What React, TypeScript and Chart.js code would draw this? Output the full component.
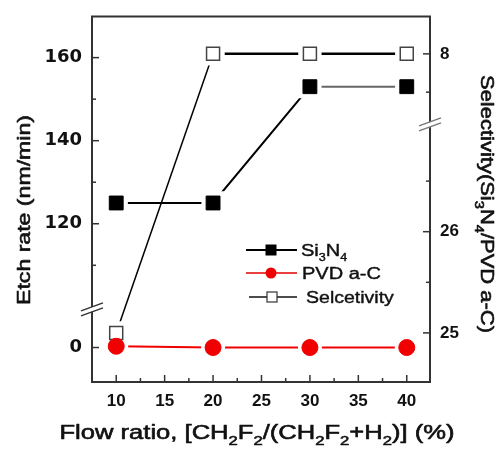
import React, { useEffect, useRef } from 'react';
import { Chart, registerables } from 'chart.js';

Chart.register(...registerables);

// ---- data ----
const flowRatio = [10, 20, 30, 40];
const si3n4EtchRate = [125, 125, 153, 153];
const pvdEtchRate = [0.3, 0, 0, 0];
const selectivity = [25, 8, 8, 8];

// ---- ticks ----
const xMajorTicks = [10, 15, 20, 25, 30, 35, 40];
const xMinorTicks = [12.5, 17.5, 22.5, 27.5, 32.5, 37.5];
const leftMajorTicks = [0, 120, 140, 160];
const leftMinorTicks = [110, 130, 150];
const rightMajorTicks = [25, 26, 8];
const rightMinorTicks = [25.5, 26.5, 7.5];

// ---- broken-axis transforms (value -> position on a continuous internal scale) ----
const leftAxis = (v: number) => (v >= 50 ? v : v + 90.2);
const rightAxis = (v: number) => (v >= 20 ? v : 27.757 + (v - 8) * 0.757);
const LEFT_BREAK = 99.4;
const RIGHT_BREAK = 27.06;

type Part = { t: string; sub?: boolean };

const FAMILY = '"Liberation Sans", Arial, Helvetica, sans-serif';

function drawRich(
  ctx: CanvasRenderingContext2D,
  parts: Part[],
  o: { x: number; y: number; rot?: number; size: number; length?: number; stretch?: number; align?: 'left' | 'center'; color?: string; heavy?: number }
) {
  ctx.save();
  ctx.translate(o.x, o.y);
  ctx.rotate(o.rot || 0);
  const subSize = Math.round(o.size * 0.64);
  const font = (s: number) => `normal ${s}px ${FAMILY}`;
  const widths = parts.map((p) => {
    ctx.font = font(p.sub ? subSize : o.size);
    return ctx.measureText(p.t).width;
  });
  const w = widths.reduce((a, b) => a + b, 0);
  const k = o.length ? o.length / w : o.stretch || 1;
  ctx.scale(k, 1);
  ctx.fillStyle = o.color || '#111';
  ctx.strokeStyle = o.color || '#111';
  ctx.lineWidth = o.heavy ?? 0.6;
  ctx.lineJoin = 'round';
  ctx.textBaseline = 'alphabetic';
  ctx.textAlign = 'left';
  let x = o.align === 'left' ? 0 : -w / 2;
  const base = o.size * 0.36;
  parts.forEach((p, i) => {
    ctx.font = font(p.sub ? subSize : o.size);
    const y = p.sub ? base + o.size * 0.3 : base;
    ctx.fillText(p.t, x, y);
    if (ctx.lineWidth > 0) ctx.strokeText(p.t, x, y);
    x += widths[i];
  });
  ctx.restore();
}

const decorPlugin = {
  id: 'decor',
  afterDraw(chart: any) {
    const { ctx, chartArea: a, scales } = chart;
    const sx = scales.x;
    const yl = scales.y;
    const yr = scales.y2;
    ctx.save();

    // frame
    ctx.strokeStyle = '#333';
    ctx.lineWidth = 2;
    ctx.strokeRect(a.left, a.top, a.right - a.left, a.bottom - a.top);

    const line = (x1: number, y1: number, x2: number, y2: number) => {
      ctx.beginPath();
      ctx.moveTo(x1, y1);
      ctx.lineTo(x2, y2);
      ctx.stroke();
    };

    // inward tick marks
    ctx.lineWidth = 1.5;
    ctx.strokeStyle = '#333';
    xMajorTicks.forEach((v) => {
      const p = sx.getPixelForValue(v);
      line(p, a.bottom, p, a.bottom - 7);
    });
    xMinorTicks.forEach((v) => {
      const p = sx.getPixelForValue(v);
      line(p, a.bottom, p, a.bottom - 4);
    });
    leftMajorTicks.forEach((v) => {
      const p = yl.getPixelForValue(leftAxis(v));
      line(a.left, p, a.left + 7, p);
    });
    leftMinorTicks.forEach((v) => {
      const p = yl.getPixelForValue(leftAxis(v));
      line(a.left, p, a.left + 4, p);
    });
    rightMajorTicks.forEach((v) => {
      const p = yr.getPixelForValue(rightAxis(v));
      line(a.right, p, a.right - 7, p);
    });
    rightMinorTicks.forEach((v) => {
      const p = yr.getPixelForValue(rightAxis(v));
      line(a.right, p, a.right - 4, p);
    });

    // axis breaks
    const drawBreak = (bx: number, by: number, color: string) => {
      const hw = 11;
      const dy = 4;
      const g = 2.5;
      ctx.fillStyle = '#fff';
      ctx.beginPath();
      ctx.moveTo(bx - hw, by + dy - g);
      ctx.lineTo(bx + hw, by - dy - g);
      ctx.lineTo(bx + hw, by - dy + g);
      ctx.lineTo(bx - hw, by + dy + g);
      ctx.closePath();
      ctx.fill();
      ctx.strokeStyle = color;
      ctx.lineWidth = 1.3;
      line(bx - hw, by + dy - g, bx + hw, by - dy - g);
      line(bx - hw, by + dy + g, bx + hw, by - dy + g);
    };
    drawBreak(a.left, yl.getPixelForValue(LEFT_BREAK), '#333');
    drawBreak(a.right, yr.getPixelForValue(RIGHT_BREAK), '#777');

    // axis titles
    drawRich(ctx, [{ t: 'Etch rate (nm/min)' }], { x: 23, y: 210, rot: -Math.PI / 2, size: 19, length: 190 });
    drawRich(
      ctx,
      [
        { t: 'Selectivity(Si' },
        { t: '3', sub: true },
        { t: 'N' },
        { t: '4', sub: true },
        { t: '/PVD a-C)' },
      ],
      { x: 487, y: 204, rot: Math.PI / 2, size: 18, length: 258 }
    );
    drawRich(
      ctx,
      [
        { t: 'Flow ratio, [CH' },
        { t: '2', sub: true },
        { t: 'F' },
        { t: '2', sub: true },
        { t: '/(CH' },
        { t: '2', sub: true },
        { t: 'F' },
        { t: '2', sub: true },
        { t: '+H' },
        { t: '2', sub: true },
        { t: ')] (%)' },
      ],
      { x: 257, y: 432, size: 20, length: 395 }
    );

    // legend
    const ly = [250, 273, 297];
    // Si3N4
    ctx.strokeStyle = '#000';
    ctx.lineWidth = 2;
    line(246, ly[0], 297, ly[0]);
    ctx.fillStyle = '#000';
    ctx.fillRect(271 - 5.5, ly[0] - 5.5, 11, 11);
    drawRich(ctx, [{ t: 'Si' }, { t: '3', sub: true }, { t: 'N' }, { t: '4', sub: true }], { x: 301, y: ly[0], size: 16, stretch: 1.25, align: 'left', heavy: 0.4 });
    // PVD a-C
    ctx.strokeStyle = '#e00000';
    ctx.lineWidth = 1.5;
    line(246, ly[1], 297, ly[1]);
    ctx.fillStyle = '#ee0000';
    ctx.beginPath();
    ctx.arc(271, ly[1], 5.5, 0, Math.PI * 2);
    ctx.fill();
    drawRich(ctx, [{ t: 'PVD a-C' }], { x: 302, y: ly[1], size: 16, stretch: 1.25, align: 'left', heavy: 0.4 });
    // Selcetivity
    ctx.strokeStyle = '#111';
    ctx.lineWidth = 1.5;
    line(249, ly[2], 297, ly[2]);
    ctx.fillStyle = '#fff';
    ctx.fillRect(272 - 5, ly[2] - 5, 10, 10);
    ctx.strokeStyle = '#333';
    ctx.lineWidth = 1.2;
    ctx.strokeRect(272 - 5, ly[2] - 5, 10, 10);
    drawRich(ctx, [{ t: 'Selcetivity' }], { x: 306, y: ly[2], size: 16, stretch: 1.22, align: 'left', heavy: 0.4 });

    ctx.restore();
  },
};

const noPad = (s: any) => {
  s.paddingTop = 0;
  s.paddingBottom = 0;
  s.paddingLeft = 0;
  s.paddingRight = 0;
};

export default function App() {
  const ref = useRef<HTMLCanvasElement | null>(null);

  useEffect(() => {
    if (!ref.current) return;
    const si = flowRatio.map((x, i) => ({ x, y: leftAxis(si3n4EtchRate[i]) }));
    const pvd = flowRatio.map((x, i) => ({ x, y: leftAxis(pvdEtchRate[i]) }));
    const sel = flowRatio.map((x, i) => ({ x, y: rightAxis(selectivity[i]) }));

    const tickFont = { family: FAMILY, size: 17, weight: 'bold' as const };

    const chart = new Chart(ref.current, {
      type: 'line',
      data: {
        datasets: [
          {
            label: 'Si3N4',
            data: si,
            yAxisID: 'y',
            borderColor: '#000',
            borderWidth: 2,
            pointRadius: 0,
            order: 3,
            segment: { borderColor: (c: any) => (c.p0DataIndex === 2 ? '#666' : undefined) },
          },
          {
            label: 'PVD a-C',
            data: pvd,
            yAxisID: 'y',
            borderColor: '#f00000',
            borderWidth: 2,
            pointRadius: 0,
            order: 3,
          },
          {
            label: 'Selcetivity',
            data: sel,
            yAxisID: 'y2',
            borderColor: '#000',
            borderWidth: 2.5,
            pointRadius: 0,
            order: 3,
            segment: { borderWidth: (c: any) => (c.p0DataIndex === 0 ? 1.5 : 2.5) },
          },
          // white halos (gaps between lines and markers)
          { data: si, yAxisID: 'y', showLine: false, pointStyle: 'rect', pointRadius: 16.5, pointBackgroundColor: '#fff', pointBorderWidth: 0, order: 2 },
          { data: pvd, yAxisID: 'y', showLine: false, pointStyle: 'circle', pointRadius: 12, pointBackgroundColor: '#fff', pointBorderWidth: 0, order: 2 },
          { data: sel, yAxisID: 'y2', showLine: false, pointStyle: 'rect', pointRadius: 16.5, pointBackgroundColor: '#fff', pointBorderWidth: 0, order: 2 },
          // markers
          { data: si, yAxisID: 'y', showLine: false, pointStyle: 'rect', pointRadius: 9.8, pointBackgroundColor: '#000', pointBorderColor: '#000', pointBorderWidth: 1, order: 1 },
          { data: pvd, yAxisID: 'y', showLine: false, pointStyle: 'circle', pointRadius: 8, pointBackgroundColor: '#f00000', pointBorderColor: '#f00000', pointBorderWidth: 1, order: 1 },
          { data: sel, yAxisID: 'y2', showLine: false, pointStyle: 'rect', pointRadius: 9.2, pointBackgroundColor: '#fff', pointBorderColor: '#444', pointBorderWidth: 1.5, order: 1 },
        ] as any,
      },
      options: {
        animation: false,
        responsive: false,
        events: [],
        layout: { padding: { top: 9.5, left: 0, right: 0, bottom: 0 } },
        plugins: { legend: { display: false }, tooltip: { enabled: false } },
        scales: {
          x: {
            type: 'linear',
            min: 7.5,
            max: 42.4,
            afterBuildTicks: (s: any) => {
              s.ticks = xMajorTicks.map((v) => ({ value: v }));
            },
            afterFit: (s: any) => {
              s.height = 67;
              noPad(s);
            },
            grid: { display: false, drawTicks: false },
            border: { display: false },
            ticks: { padding: 9, autoSkip: false, maxRotation: 0, color: '#111', font: tickFont, callback: (_v: any, i: number) => String(xMajorTicks[i]) },
          },
          y: {
            type: 'linear',
            position: 'left',
            min: 81.9,
            max: 169.9,
            afterBuildTicks: (s: any) => {
              s.ticks = leftMajorTicks.map((v) => ({ value: leftAxis(v) }));
            },
            afterFit: (s: any) => {
              s.width = 92;
              noPad(s);
            },
            grid: { display: false, drawTicks: false },
            border: { display: false },
            ticks: {
              padding: 10,
              autoSkip: false,
              color: '#111',
              font: { family: '"DejaVu Sans", sans-serif', size: 18, weight: 'bold' },
              callback: (_v: any, i: number) => String(leftMajorTicks[i]),
            },
          },
          y2: {
            type: 'linear',
            position: 'right',
            min: 24.515,
            max: 28.126,
            afterBuildTicks: (s: any) => {
              s.ticks = rightMajorTicks.map((v) => ({ value: rightAxis(v) }));
            },
            afterFit: (s: any) => {
              s.width = 74;
              noPad(s);
            },
            grid: { display: false, drawTicks: false },
            border: { display: false },
            ticks: { padding: 10, autoSkip: false, color: '#111', font: tickFont, callback: (_v: any, i: number) => String(rightMajorTicks[i]) },
          },
        },
      } as any,
      plugins: [decorPlugin],
    });
    return () => chart.destroy();
  }, []);

  return (
    <div style={{ position: 'absolute', left: 0, top: 0, width: 504, height: 449, background: '#fff' }}>
      <canvas ref={ref} width={504} height={449} style={{ display: 'block' }} />
    </div>
  );
}
